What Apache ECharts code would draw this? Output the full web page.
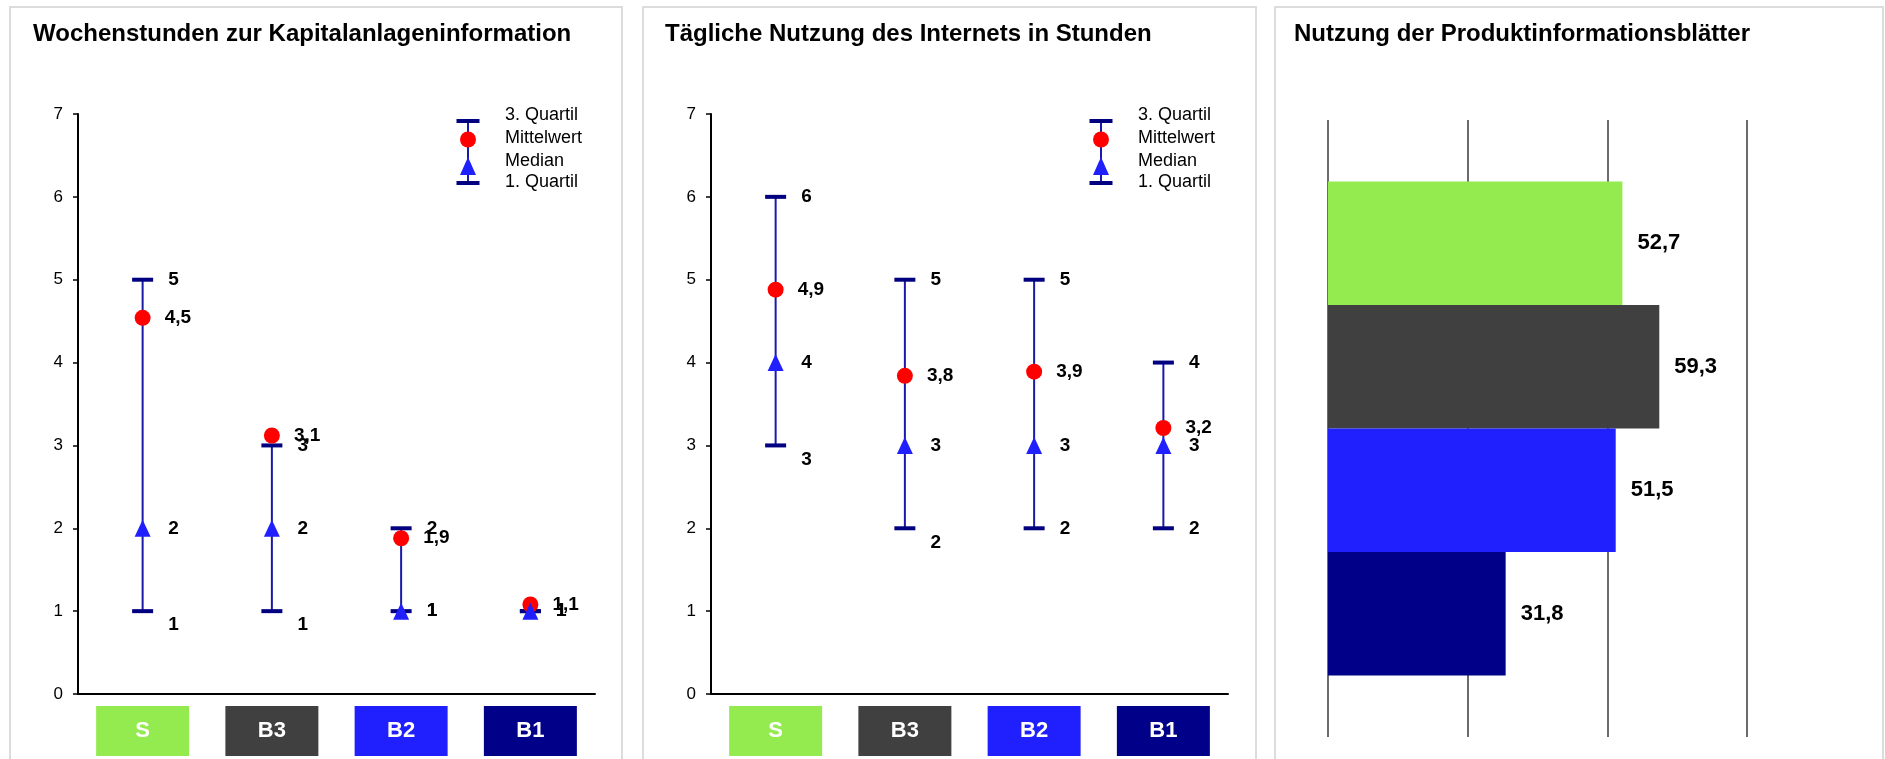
<!DOCTYPE html>
<html>
<head>
<meta charset="utf-8">
<script src="https://cdn.jsdelivr.net/npm/echarts@6/dist/echarts.min.js"></script>
<style>
  html, body { margin: 0; padding: 0; background: #fff; }
  #chart { width: 1885px; height: 759px; }
</style>
</head>
<body>
<div id="chart"></div>
<script>
// categories
const categories = ["S", "B3", "B2", "B1"];

// Wochenstunden zur Kapitalanlageninformation
const hoursQ3 = [5, 3, 2, 1];
const hoursMean = [4.54, 3.12, 1.88, 1.08];
const hoursMedian = [2, 2, 1, 1];
const hoursQ1 = [1, 1, 1, 1];

// Tägliche Nutzung des Internets in Stunden
const netQ3 = [6, 5, 5, 4];
const netMean = [4.88, 3.84, 3.89, 3.21];
const netMedian = [4, 3, 3, 3];
const netQ1 = [3, 2, 2, 2];

// Nutzung der Produktinformationsblätter
const sheetUsage = [52.7, 59.3, 51.5, 31.8];

const yTicks = [0, 1, 2, 3, 4, 5, 6, 7];
const legendNames = ["3. Quartil", "Mittelwert", "Median", "1. Quartil"];

// styles
const catColors = ["#94eb50", "#404040", "#2020ff", "#000088"];
const q1LabelShift = [14, 14, 0, 0];
const FONT = "Liberation Sans, Arial, sans-serif";

const chart = echarts.init(document.getElementById("chart"));

function comma(v, d) {
  return v.toFixed(d).replace(".", ",");
}

const dataLabel = {
  show: true,
  position: "right",
  distance: 15,
  color: "#000",
  fontFamily: FONT,
  fontWeight: "bold",
  fontSize: 19,
};

function catAxisData() {
  return categories.map((c, i) => ({
    value: c,
    textStyle: { backgroundColor: catColors[i] },
  }));
}

function boxSeries(gi, q3, mean, median, q1) {
  return [
    {
      type: "custom",
      xAxisIndex: gi,
      yAxisIndex: gi,
      z: 2,
      data: q1.map((v, i) => [i, v, q3[i]]),
      renderItem(params, api) {
        const lo = api.coord([api.value(0), api.value(1)]);
        const hi = api.coord([api.value(0), api.value(2)]);
        return {
          type: "line",
          shape: { x1: lo[0], y1: lo[1], x2: hi[0], y2: hi[1] },
          style: { stroke: "#1a1aa8", lineWidth: 2 },
        };
      },
    },
    {
      type: "scatter",
      xAxisIndex: gi,
      yAxisIndex: gi,
      z: 3,
      symbol: "rect",
      symbolSize: [21, 4],
      itemStyle: { color: "#000080", opacity: 1 },
      label: Object.assign({}, dataLabel, { formatter: (p) => comma(p.value, 0) }),
      data: q3,
    },
    {
      type: "scatter",
      xAxisIndex: gi,
      yAxisIndex: gi,
      z: 3,
      symbol: "rect",
      symbolSize: [21, 4],
      itemStyle: { color: "#000080", opacity: 1 },
      data: q1.map((v, i) => ({
        value: v,
        label: Object.assign({}, dataLabel, {
          offset: [0, q1LabelShift[i]],
          formatter: (p) => comma(p.value, 0),
        }),
      })),
    },
    {
      type: "scatter",
      xAxisIndex: gi,
      yAxisIndex: gi,
      z: 4,
      symbol: "circle",
      symbolSize: 16,
      itemStyle: { color: "#ff0000", opacity: 1 },
      label: Object.assign({}, dataLabel, { distance: 14, formatter: (p) => comma(p.value, 1) }),
      data: mean,
    },
    {
      type: "scatter",
      xAxisIndex: gi,
      yAxisIndex: gi,
      z: 5,
      symbol: "triangle",
      symbolSize: [16, 17],
      itemStyle: { color: "#2020ff", opacity: 1 },
      label: Object.assign({}, dataLabel, { distance: 17.5, formatter: (p) => comma(p.value, 0) }),
      data: median,
    },
  ];
}

function legendGraphic(x) {
  const rows = [115, 138.5, 161.5, 182];
  const children = [
    { type: "line", shape: { x1: 0, y1: 121, x2: 0, y2: 183 }, style: { stroke: "#1a1aa8", lineWidth: 2 } },
    { type: "rect", shape: { x: -11.5, y: 119, width: 23, height: 4 }, style: { fill: "#000080" } },
    { type: "rect", shape: { x: -11.5, y: 181, width: 23, height: 4 }, style: { fill: "#000080" } },
    { type: "circle", shape: { cx: 0, cy: 139.5, r: 8 }, style: { fill: "#ff0000" } },
    { type: "polygon", shape: { points: [[0, 157], [-8, 175], [8, 175]] }, style: { fill: "#2020ff" } },
  ];
  legendNames.forEach((n, i) => {
    children.push({
      type: "text",
      x: 37,
      y: rows[i],
      style: { text: n, fill: "#000", font: "18px " + FONT, textVerticalAlign: "middle" },
    });
  });
  return { type: "group", x: x, y: 0, z: 10, children: children };
}

function panel(x1, x2) {
  return {
    type: "rect",
    z: -10,
    shape: { x: x1, y: 7, width: x2 - x1, height: 780 },
    style: { fill: "#fff", stroke: "#dcdcdc", lineWidth: 2 },
  };
}

const boxYAxis = (gi) => ({
  type: "value",
  gridIndex: gi,
  min: yTicks[0],
  max: yTicks[yTicks.length - 1],
  interval: 1,
  axisLine: { show: true, lineStyle: { color: "#000", width: 2 } },
  axisTick: { show: true, length: 5, lineStyle: { color: "#000", width: 1.5 } },
  axisLabel: { color: "#000", fontFamily: FONT, fontSize: 17, margin: 15 },
  splitLine: { show: false },
});

const boxXAxis = (gi) => ({
  type: "category",
  gridIndex: gi,
  data: catAxisData(),
  axisLine: { show: true, lineStyle: { color: "#000", width: 2 } },
  axisTick: { show: false },
  axisLabel: {
    margin: 12,
    color: "#fff",
    fontFamily: FONT,
    fontWeight: "bold",
    fontSize: 22,
    width: 93,
    height: 50,
    lineHeight: 50,
    align: "center",
    verticalAlign: "top",
  },
});

const titleStyle = { fontFamily: FONT, fontSize: 24, fontWeight: "bold", color: "#000" };

const option = {
  backgroundColor: "#fff",
  animation: false,
  title: [
    { text: "Wochenstunden zur Kapitalanlageninformation", left: 33, top: 22, padding: 0, textStyle: titleStyle },
    { text: "Tägliche Nutzung des Internets in Stunden", left: 665, top: 22, padding: 0, textStyle: titleStyle },
    { text: "Nutzung der Produktinformationsblätter", left: 1294, top: 22, padding: 0, textStyle: titleStyle },
  ],
  graphic: [panel(10, 622), panel(643, 1256), panel(1275, 1883), legendGraphic(468), legendGraphic(1101)],
  grid: [
    { left: 78, top: 114, width: 517, height: 580 },
    { left: 711, top: 114, width: 517, height: 580 },
    { left: 1328, top: 120, width: 419, height: 617 },
    { left: 1328, top: 181.5, width: 419, height: 494 },
  ],
  xAxis: [
    boxXAxis(0),
    boxXAxis(1),
    {
      type: "value",
      gridIndex: 2,
      min: 0,
      max: 75,
      interval: 25,
      axisLine: { show: false },
      axisTick: { show: false },
      axisLabel: { show: false },
      splitLine: { show: true, lineStyle: { color: "#3a3a3a", width: 1.5 } },
    },
    { type: "value", gridIndex: 3, min: 0, max: 75, show: false },
  ],
  yAxis: [
    boxYAxis(0),
    boxYAxis(1),
    { type: "value", gridIndex: 2, min: 0, max: 1, show: false },
    { type: "category", gridIndex: 3, data: categories, inverse: true, show: false },
  ],
  series: [
    ...boxSeries(0, hoursQ3, hoursMean, hoursMedian, hoursQ1),
    ...boxSeries(1, netQ3, netMean, netMedian, netQ1),
    {
      type: "bar",
      xAxisIndex: 3,
      yAxisIndex: 3,
      barCategoryGap: 0,
      data: sheetUsage,
      itemStyle: { color: (p) => catColors[p.dataIndex] },
      label: {
        show: true,
        position: "right",
        distance: 15,
        color: "#000",
        fontFamily: FONT,
        fontWeight: "bold",
        fontSize: 22,
        formatter: (p) => comma(p.value, 1),
      },
    },
  ],
};

chart.setOption(option);
</script>
</body>
</html>
